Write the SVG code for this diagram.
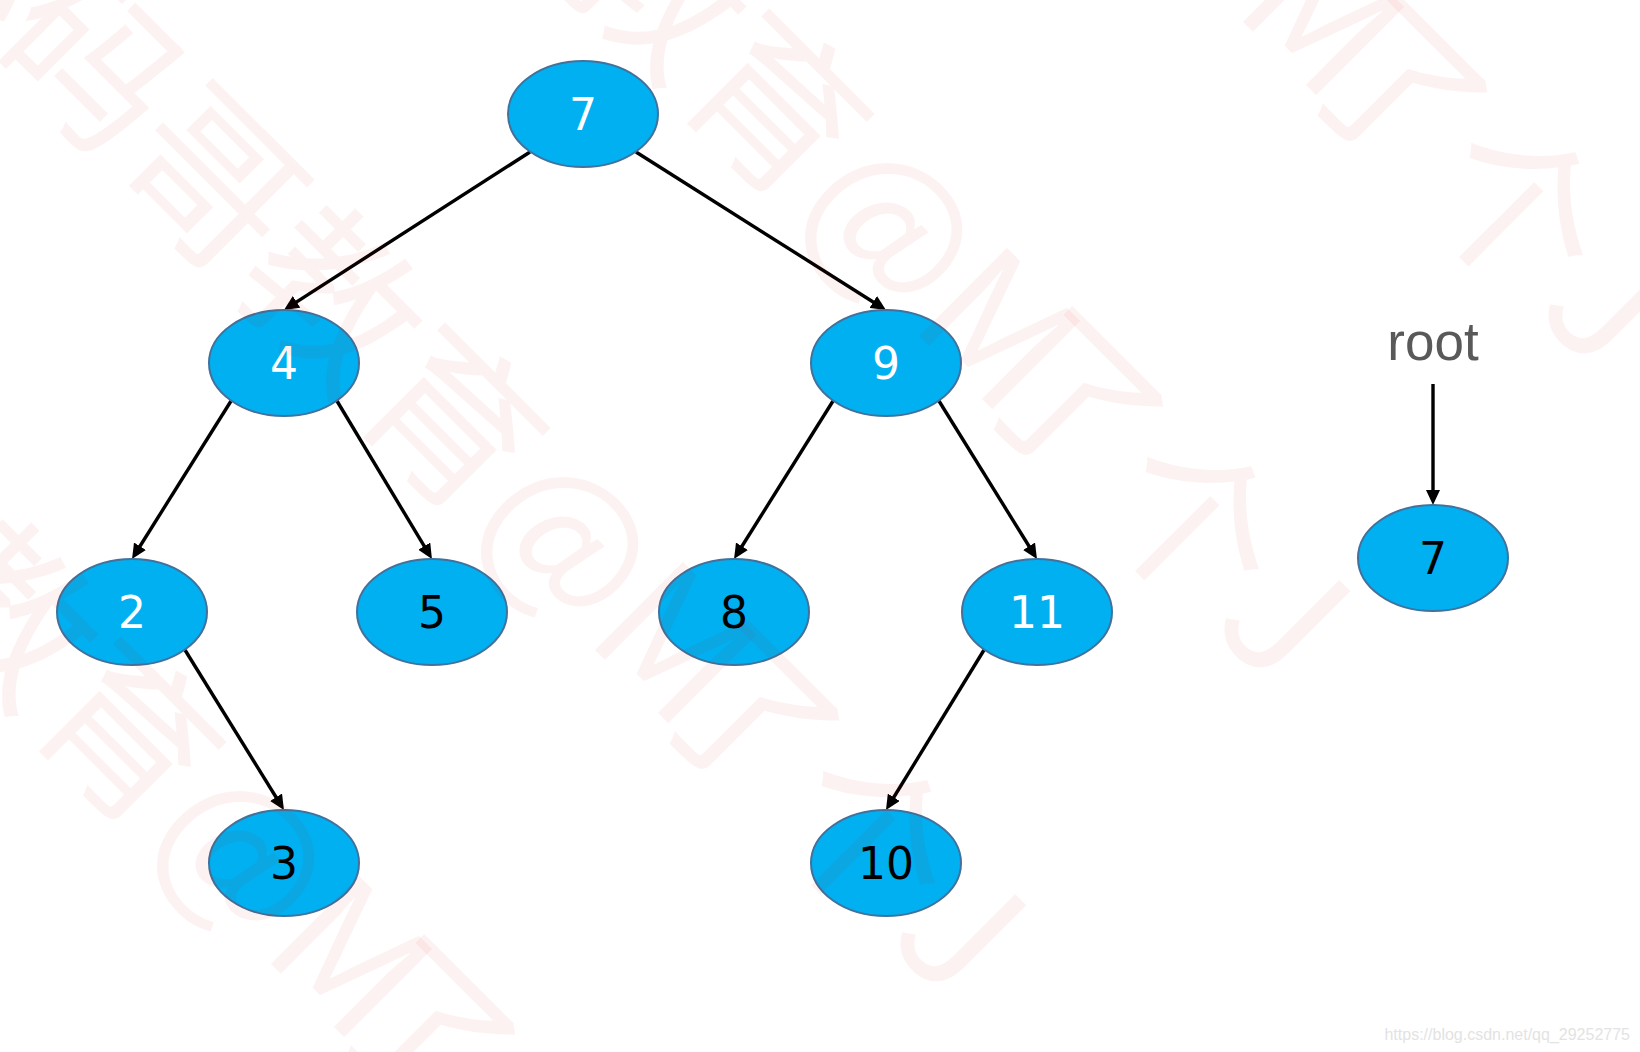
<svg xmlns="http://www.w3.org/2000/svg" width="1640" height="1052" viewBox="0 0 1640 1052">
  <style>
    .node ellipse { fill: #00b0f0; stroke: #41719c; stroke-width: 2; }
    .node text { font-family: "DejaVu Sans", sans-serif; font-size: 44px; text-anchor: middle; }
    .w { fill: #ffffff; }
    .b { fill: #000000; }
    .edge { stroke: #000000; stroke-width: 3.4; fill: none; marker-end: url(#arrow); }
    .label { font-family: "Liberation Sans", Arial, sans-serif; font-size: 53px; fill: #595959; text-anchor: middle; }
    .url { font-family: "Liberation Sans", Arial, sans-serif; font-size: 16px; fill: #e3e3e3; text-anchor: end; }
    .wm text { font-family: "Noto Sans CJK SC", sans-serif; font-size: 170px; fill: #e00000; fill-opacity: 0.05; }
  </style>
  <defs>
    <marker id="arrow" markerUnits="userSpaceOnUse" viewBox="0 0 15 14" markerWidth="15" markerHeight="14" refX="5" refY="7" orient="auto">
      <path d="M0,0 L15,7 L0,14 z" fill="#000000"/>
    </marker>
  </defs>
  <rect width="1640" height="1052" fill="#ffffff"/>

  <g id="connectors">
    <line class="edge" x1="530" y1="152" x2="292.4" y2="304.6"/>
    <line class="edge" x1="636" y1="152" x2="877.5" y2="304.7"/>
    <line class="edge" x1="231" y1="401" x2="137.3" y2="550.5"/>
    <line class="edge" x1="337" y1="401" x2="426.8" y2="550.4"/>
    <line class="edge" x1="833" y1="401" x2="739.3" y2="550.5"/>
    <line class="edge" x1="939" y1="401" x2="1031.7" y2="550.5"/>
    <line class="edge" x1="185" y1="650" x2="278.7" y2="801.5"/>
    <line class="edge" x1="984" y1="650" x2="891.2" y2="801.5"/>
    <line class="edge" x1="1433" y1="384" x2="1433" y2="495"/>
  </g>

  <g id="node-7" class="node"><ellipse cx="583" cy="114" rx="75" ry="53"/><text class="w" x="583" y="130">7</text></g>
  <g id="node-4" class="node"><ellipse cx="284" cy="363" rx="75" ry="53"/><text class="w" x="284" y="379">4</text></g>
  <g id="node-9" class="node"><ellipse cx="886" cy="363" rx="75" ry="53"/><text class="w" x="886" y="379">9</text></g>
  <g id="node-2" class="node"><ellipse cx="132" cy="612" rx="75" ry="53"/><text class="w" x="132" y="628">2</text></g>
  <g id="node-5" class="node"><ellipse cx="432" cy="612" rx="75" ry="53"/><text class="b" x="432" y="628">5</text></g>
  <g id="node-8" class="node"><ellipse cx="734" cy="612" rx="75" ry="53"/><text class="b" x="734" y="628">8</text></g>
  <g id="node-11" class="node"><ellipse cx="1037" cy="612" rx="75" ry="53"/><text class="w" x="1037" y="628">11</text></g>
  <g id="node-3" class="node"><ellipse cx="284" cy="863" rx="75" ry="53"/><text class="b" x="284" y="879">3</text></g>
  <g id="node-10" class="node"><ellipse cx="886" cy="863" rx="75" ry="53"/><text class="b" x="886" y="879">10</text></g>
  <g id="node-root7" class="node"><ellipse cx="1433" cy="558" rx="75" ry="53"/><text class="b" x="1433" y="574">7</text></g>

  <g id="root-label"><text class="label" x="1433" y="360">root</text></g>

  <g id="watermark" class="wm">
    <text transform="translate(-456,237) rotate(45)">小码哥教育@M<tspan dx="-50">了个J</tspan></text>
    <text transform="translate(-132,-77) rotate(45)">小码哥教育@M<tspan dx="-50">了个J</tspan></text>
    <text transform="translate(192,-391) rotate(45)">小码哥教育@M<tspan dx="-50">了个J</tspan></text>
    <text transform="translate(516,-705) rotate(45)">小码哥教育@M<tspan dx="-50">了个J</tspan></text>
  </g>
  <text class="url" x="1630" y="1040">https://blog.csdn.net/qq_29252775</text>
</svg>
